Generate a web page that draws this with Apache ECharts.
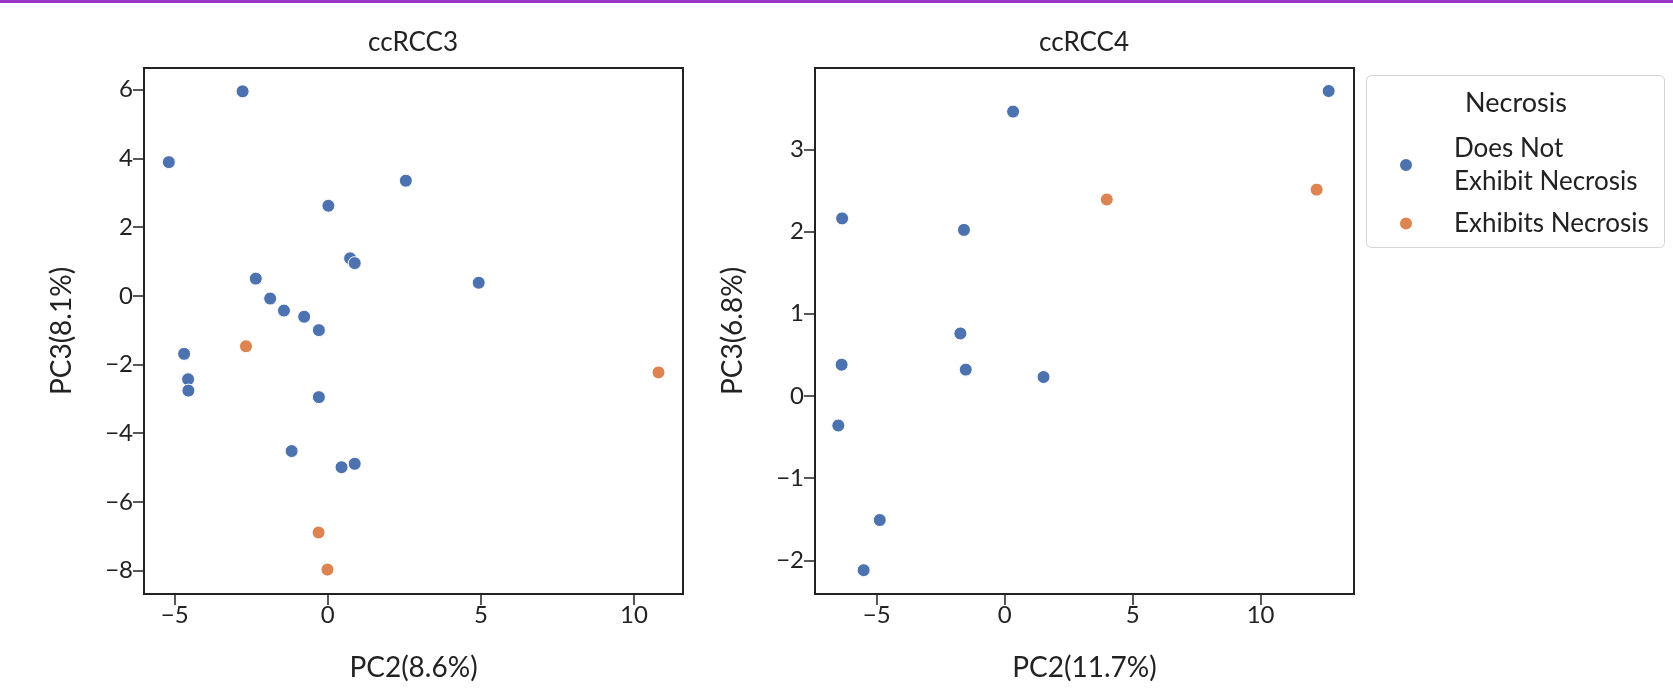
<!DOCTYPE html>
<html><head><meta charset="utf-8">
<script src="https://cdn.jsdelivr.net/npm/echarts@6/dist/echarts.min.js"></script>
<style>html,body{margin:0;padding:0;background:#fff}#c{width:1673px;height:697px}</style>
</head><body><div id="c"></div>
<script>
// ---- data ----
const panelTitles = ['ccRCC3', 'ccRCC4'];
const xNames = ['PC2(8.6%)', 'PC2(11.7%)'];
const yNames = ['PC3(8.1%)', 'PC3(6.8%)'];
const groupNames = ['Does Not Exhibit Necrosis', 'Exhibits Necrosis'];
const legendTitle = 'Necrosis';

const c3NoNecrosis = [[-2.78,5.95],[-5.19,3.89],[2.55,3.35],[0.02,2.62],[0.73,1.09],[0.88,0.95],[4.93,0.38],
  [-2.35,0.50],[-1.88,-0.08],[-1.43,-0.43],[-0.77,-0.61],[-0.29,-1.00],[-4.69,-1.69],[-4.56,-2.43],
  [-4.55,-2.76],[-0.29,-2.95],[-1.18,-4.52],[0.45,-4.99],[0.88,-4.89]];
const c3Necrosis = [[-2.67,-1.47],[10.8,-2.23],[-0.30,-6.89],[-0.01,-7.97]];
const c4NoNecrosis = [[0.33,3.46],[12.66,3.71],[-6.35,2.16],[-1.59,2.02],[-1.73,0.76],[-6.37,0.38],
  [-1.52,0.32],[1.52,0.23],[-6.50,-0.36],[-4.88,-1.51],[-5.51,-2.12]];
const c4Necrosis = [[3.99,2.39],[12.19,2.51]];

const c3XTicks = [-5, 0, 5, 10];
const c3YTicks = [-8, -6, -4, -2, 0, 2, 4, 6];
const c4XTicks = [-5, 0, 5, 10];
const c4YTicks = [-2, -1, 0, 1, 2, 3];
const c3XRange = [-6.0, 11.6];
const c3YRange = [-8.68, 6.63];
const c4XRange = [-7.41, 13.65];
const c4YRange = [-2.41, 3.99];

// ---- styles ----
const FONT = 'Lato';
const TXT = '#222';
const FS_TICK = 24;
const FS_NAME = 28;
const FS_TITLE = 26;
const FS_LEG = 26;
const BLUE = '#4c72b0';
const ORANGE = '#dd8452';

function fmt(v){ return String(v).replace('-', '\u2212'); }

function xAxis(i, range, ticks){
  return {
    type:'value', gridIndex:i, min:range[0], max:range[1],
    name:xNames[i], nameLocation:'middle', nameGap:60,
    nameTextStyle:{fontFamily:FONT, fontSize:FS_NAME, color:TXT},
    splitLine:{show:false},
    axisLine:{show:true, onZero:false, lineStyle:{color:TXT, width:2}},
    axisTick:{show:true, length:11, customValues:ticks, lineStyle:{color:TXT, width:1.5}},
    axisLabel:{customValues:ticks, margin:9, fontFamily:FONT, fontSize:FS_TICK, color:TXT, formatter:fmt}
  };
}
function yAxis(i, range, ticks){
  return {
    type:'value', gridIndex:i, min:range[0], max:range[1],
    name:yNames[i], nameLocation:'middle', nameGap:68, nameRotate:90,
    nameTextStyle:{fontFamily:FONT, fontSize:FS_NAME, color:TXT},
    splitLine:{show:false},
    axisLine:{show:true, onZero:false, lineStyle:{color:TXT, width:2}},
    axisTick:{show:true, length:11, customValues:ticks, lineStyle:{color:TXT, width:1.5}},
    axisLabel:{customValues:ticks, margin:11, fontFamily:FONT, fontSize:FS_TICK, color:TXT, formatter:fmt}
  };
}
function scatter(name, i, data, color){
  return {
    type:'scatter', name:name, xAxisIndex:i, yAxisIndex:i, data:data,
    symbolSize:13, itemStyle:{color:color, borderColor:'#fff', borderWidth:1, opacity:1},
    emphasis:{disabled:true}, animation:false
  };
}

const chart = echarts.init(document.getElementById('c'), null, {renderer:'canvas'});
chart.setOption({
  backgroundColor:'#fff',
  animation:false,
  grid:[
    {left:144, top:68, width:539, height:526, show:true, borderColor:TXT, borderWidth:2, backgroundColor:'transparent'},
    {left:815, top:68, width:539, height:526, show:true, borderColor:TXT, borderWidth:2, backgroundColor:'transparent'}
  ],
  xAxis:[xAxis(0, c3XRange, c3XTicks), xAxis(1, c4XRange, c4XTicks)],
  yAxis:[yAxis(0, c3YRange, c3YTicks), yAxis(1, c4YRange, c4YTicks)],
  legend:[
    {data:[groupNames[0]], orient:'vertical', left:1398, top:132, padding:0,
     itemWidth:40, itemHeight:14, icon:'circle', selectedMode:false,
     formatter:function(n){ return 'Does Not\nExhibit Necrosis'; },
     textStyle:{fontFamily:FONT, fontSize:FS_LEG, color:TXT, lineHeight:33, padding:[0,0,0,23]}},
    {data:[groupNames[1]], orient:'vertical', left:1398, top:207, padding:0,
     itemWidth:40, itemHeight:14, icon:'circle', selectedMode:false,
     textStyle:{fontFamily:FONT, fontSize:FS_LEG, color:TXT, lineHeight:33, padding:[0,0,0,23]}}
  ],
  graphic:[
    {type:'rect', shape:{x:0, y:0, width:1673, height:3}, style:{fill:'#9b37c7'}, silent:true},
    {type:'rect', z:-1, shape:{x:1366.5, y:75.5, width:298, height:172, r:5}, style:{fill:'#fff', stroke:'#d4d4d4', lineWidth:1}, silent:true},
    {type:'text', x:1516, y:103, style:{text:legendTitle, align:'center', verticalAlign:'middle', font:'27px '+FONT, fill:TXT}},
    {type:'text', x:413, y:43, style:{text:panelTitles[0], align:'center', verticalAlign:'middle', font:FS_TITLE+'px '+FONT, fill:TXT}},
    {type:'text', x:1084, y:43, style:{text:panelTitles[1], align:'center', verticalAlign:'middle', font:FS_TITLE+'px '+FONT, fill:TXT}}
  ],
  series:[
    scatter(groupNames[0], 0, c3NoNecrosis, BLUE),
    scatter(groupNames[1], 0, c3Necrosis, ORANGE),
    scatter(groupNames[0], 1, c4NoNecrosis, BLUE),
    scatter(groupNames[1], 1, c4Necrosis, ORANGE)
  ]
});
</script></body></html>
